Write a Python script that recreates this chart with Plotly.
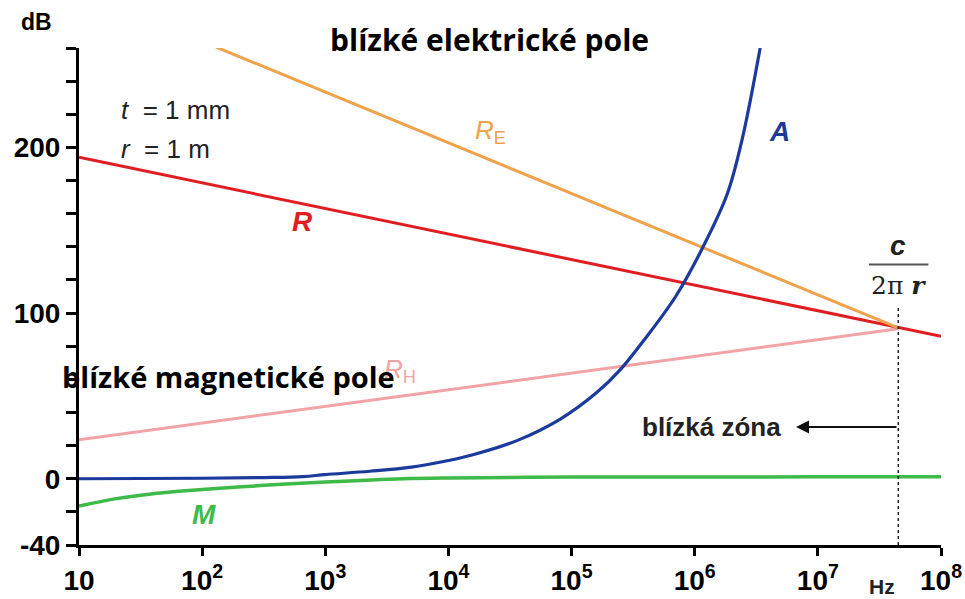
import plotly.graph_objects as go

# ---- data (frequency in Hz, attenuation in dB) ----
re_freq = [1.3e2, 4.5e7]
re_db = [260.5, 91]

r_freq = [1e1, 1e8]
r_db = [194, 86]

rh_freq = [1e1, 4.5e7]
rh_db = [23.5, 90.5]

a_freq = [1e1, 1e2, 3.2e2, 6.6e2, 1e3, 2.3e3, 5e3, 1e4, 1.5e4, 3.6e4, 8.1e4,
          1.6e5, 2.5e5, 4e5, 7e5, 1.17e6, 1.84e6, 2.43e6, 3.4e6]
a_db = [0, 0.3, 0.7, 1.3, 2.5, 4.5, 7, 11, 14, 23, 36,
        52, 66, 85, 110, 140, 172, 205, 260]

m_freq = [1e1, 2e1, 4e1, 1e2, 3.2e2, 1e3, 4.3e3, 1e4, 1e5, 1e6, 1e7, 1e8]
m_db = [-16.5, -12, -9, -6.5, -4, -2, 0, 0.5, 1, 1, 1.2, 1.2]

zone_freq = [4.5e7, 4.5e7]
zone_db = [-40, 104]

frac_freq = [2.6e7, 7.9e7]
frac_db = [129.3, 129.3]

x_tickvals = [1e1, 1e2, 1e3, 1e4, 1e5, 1e6, 1e7, 1e8]
x_ticktext = ["<b>10</b>", "<b>10<sup>2</sup></b>", "<b>10<sup>3</sup></b>", "<b>10<sup>4</sup></b>",
              "<b>10<sup>5</sup></b>", "<b>10<sup>6</sup></b>", "<b>10<sup>7</sup></b>",
              "<b>10<sup>8</sup></b>"]
y_tickvals = list(range(-40, 261, 20))
y_labels = {-40: "<b>-40</b>", 0: "<b>0</b>", 100: "<b>100</b>", 200: "<b>200</b>"}
y_ticktext = [y_labels.get(v, "") for v in y_tickvals]

W, H = 965, 599
L, R, T, B = 79, 24, 48, 54
PW, PH = W - L - R, H - T - B

NARROW = "Liberation Sans Narrow, Liberation Sans, Arial"
SANS = "Liberation Sans, Arial"


def px(x):
    return (x - L) / PW


def py(y):
    return (H - B - y) / PH


fig = go.Figure()
fig.add_trace(go.Scatter(x=rh_freq, y=rh_db, mode="lines",
                         line=dict(color="#F2A3A6", width=3)))
fig.add_trace(go.Scatter(x=r_freq, y=r_db, mode="lines",
                         line=dict(color="#E01E22", width=3)))
fig.add_trace(go.Scatter(x=re_freq, y=re_db, mode="lines",
                         line=dict(color="#F0A24A", width=3)))
fig.add_trace(go.Scatter(x=m_freq, y=m_db, mode="lines", line_shape="spline",
                         line=dict(color="#3DBA47", width=3.5)))
fig.add_trace(go.Scatter(x=a_freq, y=a_db, mode="lines", line_shape="spline",
                         line=dict(color="#1B3A9C", width=3.2)))
fig.add_trace(go.Scatter(x=zone_freq, y=zone_db, mode="lines",
                         line=dict(color="#222222", width=1.5, dash="dot")))
fig.add_trace(go.Scatter(x=frac_freq, y=frac_db, mode="lines",
                         line=dict(color="#555555", width=2)))

ann = []


def txt(x, y, s, size, color="black", family=SANS, xanchor="center"):
    ann.append(dict(x=px(x), y=py(y), xref="paper", yref="paper", text=s,
                    showarrow=False, xanchor=xanchor, yanchor="middle",
                    font=dict(size=size, color=color, family=family)))


txt(400, 370, "<i>R</i><sub>H</sub>", 26, "#F2A3A6")
txt(490, 131, "<i>R</i><sub>E</sub>", 26, "#F0A24A")
txt(302, 222, "<b><i>R</i></b>", 28, "#E01E22")
txt(779, 131, "<b><i>A</i></b>", 28, "#1B3A9C")
txt(204, 514, "<b><i>M</i></b>", 28, "#3DBA47")
txt(36, 22, "<b>dB</b>", 23)
txt(119, 110, "<i>t</i>  = 1 mm", 26, "#222222", xanchor="left")
txt(119, 149, "<i>r</i>  = 1 m", 26, "#222222", xanchor="left")
txt(898, 246, "<b><i>c</i></b>", 28, "#222222")
txt(898, 285, "2π <b><i>r</i></b>", 25, "#222222", family="DejaVu Serif, serif")
txt(882, 586, "<b>Hz</b>", 21, "#222222")
txt(640, 427, "<b>blízká zóna</b>", 26, "#222222", xanchor="left")
txt(489, 40, "<b>blízké elektrické pole</b>", 30, family="Open Sans, Lato")
txt(228, 376, "<b>blízké magnetické pole</b>", 29, family="Open Sans, Lato")

# arrow pointing left from the dotted line
ann.append(dict(x=px(796), y=py(427), xref="paper", yref="paper",
                ax=898 - 796, ay=0, axref="pixel", ayref="pixel",
                showarrow=True, arrowhead=2, arrowsize=1.3, arrowwidth=2,
                arrowcolor="#111111", text=""))

fig.update_layout(
    width=W, height=H,
    margin=dict(l=L, r=R, t=T, b=B, autoexpand=False),
    paper_bgcolor="white", plot_bgcolor="white",
    showlegend=False,
    annotations=ann,
    xaxis=dict(type="log", range=[1, 8], showgrid=False, zeroline=False,
               showline=True, linecolor="black", linewidth=3,
               ticks="outside", ticklen=8, tickwidth=3, tickcolor="black",
               tickvals=x_tickvals, ticktext=x_ticktext, automargin=False,
               tickfont=dict(size=28, family=NARROW, color="black"),
               ticklabelstandoff=0),
    yaxis=dict(range=[-40, 260], showgrid=False, zeroline=False,
               showline=True, linecolor="black", linewidth=3,
               ticks="outside", ticklen=10, tickwidth=3, tickcolor="black",
               tickvals=y_tickvals, ticktext=y_ticktext, automargin=False,
               tickfont=dict(size=28, family=NARROW, color="black")),
)

fig.write_html("out.html")
